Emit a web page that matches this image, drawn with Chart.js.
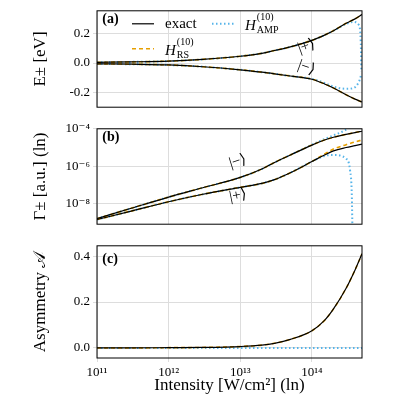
<!DOCTYPE html>
<html>
<head>
<meta charset="utf-8">
<script src="https://cdn.jsdelivr.net/npm/chart.js@4"></script>
<style>
  body { margin: 0; background: #fff; }
  #wrap { position: relative; width: 400px; height: 400px; }
  canvas { position: absolute; left: 0; }
</style>
</head>
<body>
<div id="wrap">
  <canvas id="panelA" style="top:0px"></canvas>
  <canvas id="panelB" style="top:118px"></canvas>
  <canvas id="panelC" style="top:235px"></canvas>
</div>
<script>
// Intensity grid in W/cm^2
const intensity = [1e11, 3e11, 1e12, 3e12, 1e13, 2e13, 3e13, 5e13, 1e14, 1.5e14, 2e14, 3e14, 4e14, 5e14];

// Panel (a): energies [eV]
const ePlusExact = [0.005, 0.008, 0.013, 0.025, 0.046, 0.066, 0.085, 0.11, 0.154, 0.19, 0.22, 0.27, 0.30, 0.33];
const eMinusExact = [-0.005, -0.008, -0.013, -0.025, -0.046, -0.062, -0.073, -0.088, -0.11, -0.142, -0.17, -0.215, -0.245, -0.265];
const intensityAmpA = [1e11, 3e11, 1e12, 3e12, 1e13, 2e13, 3e13, 5e13, 1e14, 1.5e14, 2e14, 3e14, 3.8e14, 4.5e14, 4.8e14, 4.9e14];
const ePlusAmp = [0.005, 0.008, 0.013, 0.025, 0.046, 0.066, 0.085, 0.11, 0.154, 0.19, 0.22, 0.265, 0.28, 0.26, 0.15, -0.06];
const eMinusAmp = [-0.005, -0.008, -0.013, -0.025, -0.046, -0.062, -0.073, -0.088, -0.108, -0.135, -0.16, -0.175, -0.17, -0.13, -0.09, -0.07];

// Panel (b): widths [a.u.] as log10 values
const gMinusExactLog = [-8.8, -8.25, -7.65, -7.15, -6.6, -6.15, -5.8, -5.4, -4.87, -4.6, -4.45, -4.3, -4.2, -4.13];
const gPlusExactLog = [-8.85, -8.4, -7.9, -7.5, -7.13, -6.92, -6.72, -6.35, -5.75, -5.4, -5.18, -5.0, -4.9, -4.82];
const gPlusRsLog = [-8.85, -8.4, -7.9, -7.5, -7.13, -6.92, -6.72, -6.35, -5.75, -5.35, -5.08, -4.85, -4.7, -4.6];
const intensityAmpB = [1e11, 3e11, 1e12, 3e12, 1e13, 2e13, 3e13, 5e13, 1e14, 1.5e14, 2e14, 3e14, 3.4e14, 3.6e14, 3.7e14];
const gMinusAmpLog = [-8.8, -8.25, -7.65, -7.15, -6.6, -6.15, -5.8, -5.4, -4.85, -4.55, -4.35, -4.05, -3.9, -3.8, -3.7];
const gPlusAmpLog = [-8.85, -8.4, -7.9, -7.5, -7.13, -6.92, -6.72, -6.35, -5.75, -5.45, -5.4, -5.6, -6.2, -7.5, -10];

// Panel (c): asymmetry
const asymExact = [0, 0, 0.001, 0.002, 0.006, 0.012, 0.02, 0.037, 0.075, 0.12, 0.17, 0.26, 0.34, 0.41];
const asymAmp = intensity.map(() => 0);

const COLOR_EXACT = '#000000';
const COLOR_RS = '#e69f00';
const COLOR_AMP = '#56b4e9';
const SERIF = '"Liberation Serif", "DejaVu Serif", serif';

function pts(xs, ys, toPow) {
    return xs.map((x, i) => ({ x: x, y: toPow ? Math.pow(10, ys[i]) : ys[i] }));
}

function lineSet(data, kind) {
    const base = { data: data, pointRadius: 0, fill: false, cubicInterpolationMode: 'monotone' };
    if (kind === 'exact') return Object.assign(base, { borderColor: COLOR_EXACT, borderWidth: 1.2 });
    if (kind === 'rs') return Object.assign(base, { borderColor: COLOR_RS, borderWidth: 1.6, borderDash: [4, 3] });
    return Object.assign(base, { borderColor: COLOR_AMP, borderWidth: 2, borderDash: [1.5, 2.5] });
}

const sup = { '0': '⁰', '1': '¹', '2': '²', '3': '³', '4': '⁴', '5': '⁵', '6': '⁶', '7': '⁷', '8': '⁸', '9': '⁹', '-': '⁻' };
function powLabel(v) {
    const e = Math.round(Math.log10(v));
    return '10' + String(e).split('').map(c => sup[c]).join('');
}

// frame + text annotations
const annotate = {
    id: 'annotate',
    afterDraw(chart, args, opts) {
        const { ctx, chartArea: a } = chart;
        ctx.save();
        ctx.strokeStyle = '#000';
        ctx.lineWidth = 1;
        ctx.strokeRect(a.left, a.top, a.right - a.left, a.bottom - a.top);
        (opts.texts || []).forEach(t => {
            ctx.save();
            ctx.font = t.font || ('15px ' + SERIF);
            ctx.fillStyle = '#000';
            ctx.textAlign = 'left';
            ctx.textBaseline = 'middle';
            const x = a.left + t.fx * (a.right - a.left);
            const y = a.top + t.fy * (a.bottom - a.top);
            ctx.translate(x, y);
            if (t.rot) ctx.rotate(t.rot);
            ctx.fillText(t.s, 0, 0);
            ctx.restore();
        });
        if (opts.legend) {
            const items = [
                { kind: 'exact', s: 'exact', x: a.left + 35, y: a.top + 13 },
                { kind: 'amp', s: 'H', sub: 'AMP', x: a.left + 115, y: a.top + 13 },
                { kind: 'rs', s: 'H', sub: 'RS', x: a.left + 35, y: a.top + 38 }
            ];
            items.forEach(it => {
                ctx.beginPath();
                if (it.kind === 'exact') { ctx.strokeStyle = COLOR_EXACT; ctx.lineWidth = 1.2; ctx.setLineDash([]); }
                if (it.kind === 'rs') { ctx.strokeStyle = COLOR_RS; ctx.lineWidth = 1.6; ctx.setLineDash([4, 3]); }
                if (it.kind === 'amp') { ctx.strokeStyle = COLOR_AMP; ctx.lineWidth = 2; ctx.setLineDash([1.5, 2.5]); }
                ctx.moveTo(it.x, it.y); ctx.lineTo(it.x + 22, it.y); ctx.stroke();
                ctx.setLineDash([]);
                ctx.fillStyle = '#000';
                ctx.textBaseline = 'middle';
                if (it.sub) {
                    ctx.font = 'italic 15px ' + SERIF;
                    ctx.fillText(it.s, it.x + 33, it.y + 2);
                    const w = ctx.measureText(it.s).width;
                    ctx.font = '10px ' + SERIF;
                    ctx.fillText('(10)', it.x + 33 + w + 1, it.y - 6);
                    ctx.fillText(it.sub, it.x + 33 + w + 1, it.y + 7);
                } else {
                    ctx.font = '15px ' + SERIF;
                    ctx.fillText(it.s, it.x + 33, it.y);
                }
            });
        }
        ctx.restore();
    }
};

function makeChart(id, height, padTop, datasets, yOpts, showX, texts, legend) {
    const el = document.getElementById(id);
    el.style.width = '400px';
    el.style.height = height + 'px';
    el.width = 400; el.height = height;
    return new Chart(el.getContext('2d'), {
        type: 'line',
        data: { datasets: datasets },
        plugins: [annotate],
        options: {
            responsive: false,
            animation: false,
            devicePixelRatio: 1,
            layout: { autoPadding: false, padding: { top: padTop, right: 38, bottom: 0, left: 26 } },
            scales: {
                x: {
                    type: 'logarithmic',
                    min: 1e11, max: 5e14,
                    afterBuildTicks: s => { s.ticks = [1e11, 1e12, 1e13, 1e14].map(v => ({ value: v })); },
                    afterFit: s => { s.height = showX ? 42 : 0; },
                    grid: { color: '#dddddd', drawTicks: showX, tickLength: 4 },
                    border: { display: false },
                    ticks: { display: showX, color: '#000', font: { family: SERIF, size: 13 }, maxRotation: 0, callback: v => powLabel(v) },
                    title: { display: showX, text: 'Intensity [W/cm²] (ln)', color: '#000', font: { family: SERIF, size: 17 }, padding: { top: 0 } }
                },
                y: Object.assign({
                    afterFit: s => { s.width = 71; },
                    grid: { color: '#dddddd', tickLength: 4 },
                    border: { display: false }
                }, yOpts)
            },
            plugins: { legend: { display: false }, tooltip: { enabled: false }, annotate: { texts: texts, legend: legend } }
        }
    });
}

function yTicks(list, fmt) {
    return {
        afterBuildTicks: s => { s.ticks = list.map(v => ({ value: v })); },
        ticks: { color: '#000', font: { family: SERIF, size: 13 }, callback: fmt }
    };
}

makeChart('panelA', 118, 2, [
    lineSet(pts(intensity, ePlusExact), 'exact'),
    lineSet(pts(intensity, eMinusExact), 'exact'),
    lineSet(pts(intensity, ePlusExact), 'rs'),
    lineSet(pts(intensity, eMinusExact), 'rs'),
    lineSet(pts(intensityAmpA, ePlusAmp), 'amp'),
    lineSet(pts(intensityAmpA, eMinusAmp), 'amp')
], Object.assign({
    min: -0.30, max: 0.355,
    title: { display: true, text: 'E± [eV]', color: '#000', font: { family: SERIF, size: 17 } }
}, yTicks([-0.2, 0, 0.2], v => v.toFixed(1))), false, [
    { s: '(a)', fx: 0.02, fy: 0.09, font: 'bold 14px ' + SERIF },
    { s: '|+⟩', fx: 0.76, fy: 0.4, rot: -0.35 },
    { s: '|−⟩', fx: 0.76, fy: 0.56, rot: 0.35 }
], true);

makeChart('panelB', 117, 0, [
    lineSet(pts(intensity, gMinusExactLog, true), 'exact'),
    lineSet(pts(intensity, gPlusExactLog, true), 'exact'),
    lineSet(pts(intensity, gMinusExactLog, true), 'rs'),
    lineSet(pts(intensity, gPlusRsLog, true), 'rs'),
    lineSet(pts(intensityAmpB, gMinusAmpLog, true), 'amp'),
    lineSet(pts(intensityAmpB, gPlusAmpLog, true), 'amp')
], Object.assign({
    type: 'logarithmic', min: Math.pow(10, -9.1), max: 1e-4,
    title: { display: true, text: 'Γ± [a.u.] (ln)', color: '#000', font: { family: SERIF, size: 17 } }
}, yTicks([1e-8, 1e-6, 1e-4], v => powLabel(v))), false, [
    { s: '(b)', fx: 0.02, fy: 0.09, font: 'bold 14px ' + SERIF },
    { s: '|−⟩', fx: 0.50, fy: 0.37, rot: -0.3 },
    { s: '|+⟩', fx: 0.50, fy: 0.72, rot: -0.2 }
], false);

makeChart('panelC', 165, 0, [
    lineSet(pts(intensity, asymExact), 'exact'),
    lineSet(pts(intensity, asymExact), 'rs'),
    lineSet(pts(intensity, asymAmp), 'amp')
], Object.assign({
    min: -0.044, max: 0.445,
    title: { display: true, text: 'Asymmetry 𝒜', color: '#000', font: { family: SERIF, size: 17 } }
}, yTicks([0, 0.2, 0.4], v => v.toFixed(1))), true, [
    { s: '(c)', fx: 0.02, fy: 0.12, font: 'bold 14px ' + SERIF }
], false);
</script>
</body>
</html>
